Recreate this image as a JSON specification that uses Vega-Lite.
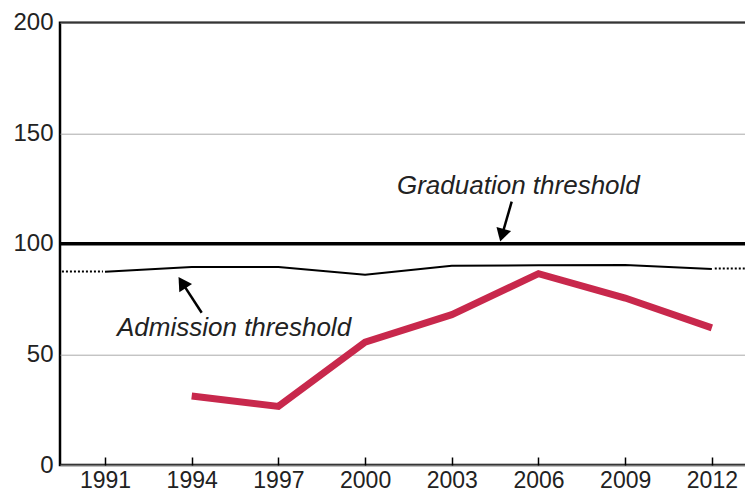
{
  "$schema": "https://vega.github.io/schema/vega-lite/v6.json",
  "width": 688,
  "height": 442.3,
  "autosize": {"type": "none"},
  "padding": {"left": 60, "top": 22.7, "right": 0, "bottom": 30},
  "config": {
    "view": {"stroke": "black", "strokeWidth": 2.5},
    "font": "Liberation Sans"
  },
  "layer": [
    {
      "data": {"values": [
        {"year": 1991, "v": 87.4}, {"year": 1994, "v": 89.5}, {"year": 1997, "v": 89.5},
        {"year": 2000, "v": 86.0}, {"year": 2003, "v": 90.1}, {"year": 2006, "v": 90.3},
        {"year": 2009, "v": 90.4}, {"year": 2012, "v": 88.6}
      ]},
      "mark": {"type": "line", "color": "black", "strokeWidth": 2},
      "encoding": {
        "x": {"field": "year", "type": "quantitative",
          "scale": {"domain": [1989.443, 2013.25], "nice": false, "zero": false},
          "axis": {"values": [1991, 1994, 1997, 2000, 2003, 2006, 2009, 2012], "format": "d",
            "title": null, "grid": false, "domain": false, "ticks": true, "tickSize": -8,
            "tickColor": "black", "tickWidth": 1.5, "labelPadding": 12, "labelFontSize": 23,
            "labelColor": "#222", "labelFont": "Liberation Sans", "labelOverlap": false}},
        "y": {"field": "v", "type": "quantitative",
          "scale": {"domain": [0, 200], "nice": false, "zero": true},
          "axis": {"values": [0, 50, 100, 150, 200], "title": null, "grid": true,
            "gridColor": "#aaaaaa", "gridWidth": 1, "domain": false, "ticks": false,
            "labelPadding": 7, "labelFontSize": 24, "labelColor": "#222",
            "labelFont": "Liberation Sans", "labelOverlap": false}}
      }
    },
    {
      "data": {"values": [{"v": 100}]},
      "mark": {"type": "rule", "color": "black", "strokeWidth": 3.5},
      "encoding": {
        "y": {"field": "v", "type": "quantitative", "scale": {"domain": [0, 200], "nice": false}}
      }
    },
    {
      "data": {"values": [
        {"year": 1989.51, "v": 87.5, "side": "left"}, {"year": 1990.93, "v": 87.5, "side": "left"},
        {"year": 2012.1, "v": 88.9, "side": "right"}, {"year": 2013.3, "v": 88.9, "side": "right"}
      ]},
      "mark": {"type": "line", "color": "black", "strokeWidth": 2, "strokeDash": [2, 2], "clip": true},
      "encoding": {
        "x": {"field": "year", "type": "quantitative", "scale": {"domain": [1989.443, 2013.25], "nice": false, "zero": false}},
        "y": {"field": "v", "type": "quantitative", "scale": {"domain": [0, 200], "nice": false}},
        "detail": {"field": "side"}
      }
    },
    {
      "data": {"values": [
        {"year": 1994, "v": 31.2}, {"year": 1997, "v": 26.5}, {"year": 2000, "v": 55.5},
        {"year": 2003, "v": 68}, {"year": 2006, "v": 86.5}, {"year": 2009, "v": 75.5},
        {"year": 2012, "v": 62}
      ]},
      "mark": {"type": "line", "color": "#c8284c", "strokeWidth": 7},
      "encoding": {
        "x": {"field": "year", "type": "quantitative", "scale": {"domain": [1989.443, 2013.25], "nice": false, "zero": false}},
        "y": {"field": "v", "type": "quantitative", "scale": {"domain": [0, 200], "nice": false}}
      }
    },
    {
      "data": {"values": [
        {"year": 2005.073, "v": 119.06, "year2": 2004.737, "v2": 103.87},
        {"year": 1994.346, "v": 68.87, "year2": 1993.668, "v2": 82.48}
      ]},
      "mark": {"type": "rule", "color": "black", "strokeWidth": 2.5},
      "encoding": {
        "x": {"field": "year", "type": "quantitative", "scale": {"domain": [1989.443, 2013.25], "nice": false, "zero": false}},
        "x2": {"field": "year2"},
        "y": {"field": "v", "type": "quantitative", "scale": {"domain": [0, 200], "nice": false}},
        "y2": {"field": "v2"}
      }
    },
    {
      "data": {"values": [{"year": 2004.737, "v": 103.87}]},
      "mark": {"type": "point", "shape": "triangle-up", "filled": true, "color": "black", "opacity": 1, "size": 230, "angle": 196},
      "encoding": {
        "x": {"field": "year", "type": "quantitative", "scale": {"domain": [1989.443, 2013.25], "nice": false, "zero": false}},
        "y": {"field": "v", "type": "quantitative", "scale": {"domain": [0, 200], "nice": false}}
      }
    },
    {
      "data": {"values": [{"year": 1993.668, "v": 82.48}]},
      "mark": {"type": "point", "shape": "triangle-up", "filled": true, "color": "black", "opacity": 1, "size": 230, "angle": 327},
      "encoding": {
        "x": {"field": "year", "type": "quantitative", "scale": {"domain": [1989.443, 2013.25], "nice": false, "zero": false}},
        "y": {"field": "v", "type": "quantitative", "scale": {"domain": [0, 200], "nice": false}}
      }
    },
    {
      "data": {"values": [
        {"year": 2001.104, "v": 122.5, "label": "Graduation threshold"},
        {"year": 1991.415, "v": 58.3, "label": "Admission threshold"}
      ]},
      "mark": {"type": "text", "align": "left", "baseline": "alphabetic", "fontSize": 26, "fontStyle": "italic", "color": "#222", "font": "Liberation Sans"},
      "encoding": {
        "x": {"field": "year", "type": "quantitative", "scale": {"domain": [1989.443, 2013.25], "nice": false, "zero": false}},
        "y": {"field": "v", "type": "quantitative", "scale": {"domain": [0, 200], "nice": false}},
        "text": {"field": "label"}
      }
    }
  ]
}
